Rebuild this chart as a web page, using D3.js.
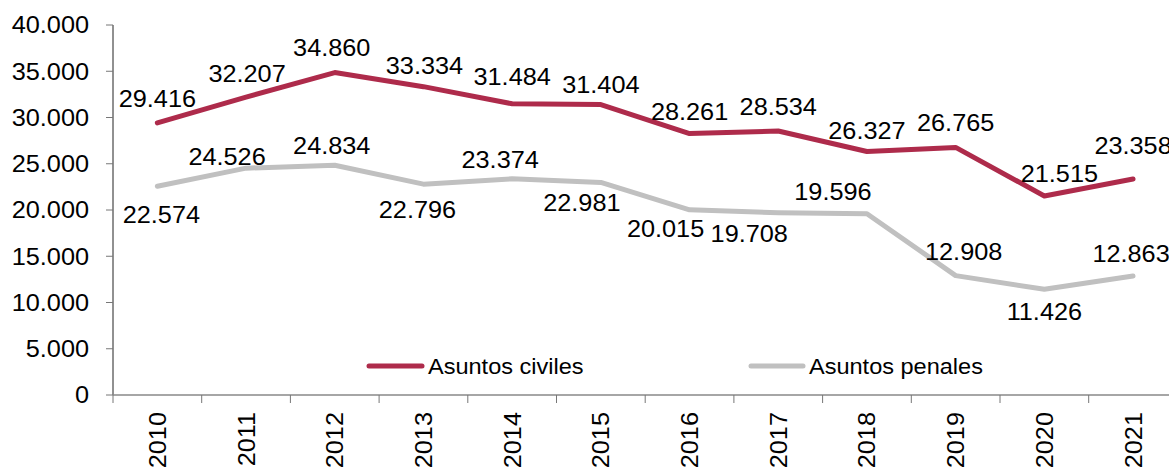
<!DOCTYPE html>
<html>
<head>
<meta charset="utf-8">
<script src="https://cdn.jsdelivr.net/npm/d3@7"></script>
<style>
  body { margin: 0; background: #fff; overflow: hidden; }
  text { font-family: "Liberation Sans", Arial, sans-serif; fill: #000; }
</style>
</head>
<body>
<script>
// data
const years = ["2010", "2011", "2012", "2013", "2014", "2015", "2016", "2017", "2018", "2019", "2020", "2021"]
const civiles = [29416, 32207, 34860, 33334, 31484, 31404, 28261, 28534, 26327, 26765, 21515, 23358]
const penales = [22574, 24526, 24834, 22796, 23374, 22981, 20015, 19708, 19596, 12908, 11426, 12863]
const yTicks = [0, 5000, 10000, 15000, 20000, 25000, 30000, 35000, 40000]
const seriesNames = ["Asuntos civiles", "Asuntos penales"]

// label nudges (layout only) [dx, dy] from the point
const civNudge = [[0,-16],[1,-15],[-3,-17],[1,-13],[0,-19],[0,-12],[0,-14],[0,-16],[0,-12],[0,-16],[15,-14],[0,-25]]
const penNudge = [[4,37],[-19,-3],[-3,-11],[-6,34],[-12,-11],[-19,29],[-24,27],[-29,29],[-34,-14],[8,-16],[0,31],[-2,-14]]

const w = 1169
const h = 468
const colCiv = "#ae2b4b"
const colPen = "#c0c0c0"
const sx = 1.1   // text looks a bit wide in the picture

const svg = d3.select("body").append("svg")
  .attr("width", w)
  .attr("height", h)

const x = d3.scaleBand().domain(years).range([113, 113 + 88.7 * 12])
const y = d3.scaleLinear().domain([0, 40000]).range([395, 25])

const fmt = d3.formatLocale({decimal: ",", thousands: ".", grouping: [3], currency: ["", ""]}).format(",")

// y axis
svg.append("line")
  .attr("x1", 113).attr("x2", 113)
  .attr("y1", y(40000)).attr("y2", y(0))
  .attr("stroke", "#222").attr("stroke-width", 1)

svg.selectAll(".ytick").data(yTicks).enter().append("line")
  .attr("x1", 106).attr("x2", 113)
  .attr("y1", d => y(d)).attr("y2", d => y(d))
  .attr("stroke", "#777")

svg.selectAll(".ylab").data(yTicks).enter().append("text")
  .attr("transform", d => `translate(89,${y(d) + 8.3}) scale(${sx},1)`)
  .attr("text-anchor", "end")
  .attr("font-size", 23)
  .text(d => fmt(d))

// x axis
svg.append("line")
  .attr("x1", 113).attr("x2", w)
  .attr("y1", y(0)).attr("y2", y(0))
  .attr("stroke", "#888").attr("stroke-width", 1.3)

svg.selectAll(".xtick").data(years).enter().append("line")
  .attr("x1", d => x(d)).attr("x2", d => x(d))
  .attr("y1", y(0)).attr("y2", y(0) + 8)
  .attr("stroke", "#777")

svg.selectAll(".xlab").data(years).enter().append("text")
  .attr("transform", d => `translate(${x(d) + x.bandwidth() / 2 + 8.5},412) rotate(-90) scale(${sx},1)`)
  .attr("text-anchor", "end")
  .attr("font-size", 23)
  .text(d => d)

// lines
const line = d3.line()
  .x((d, i) => x(years[i]) + x.bandwidth() / 2)
  .y(d => y(d))

const series = [
  {vals: penales, color: colPen, nudge: penNudge},
  {vals: civiles, color: colCiv, nudge: civNudge}
]

series.forEach(s => {
  svg.append("path")
    .attr("d", line(s.vals))
    .attr("fill", "none")
    .attr("stroke", s.color)
    .attr("stroke-width", 5)
    .attr("stroke-linejoin", "round")
    .attr("stroke-linecap", "round")
})

series.forEach(s => {
  svg.selectAll(null).data(s.vals).enter().append("text")
    .attr("transform", (d, i) => {
      const px = x(years[i]) + x.bandwidth() / 2 + s.nudge[i][0]
      const py = y(d) + s.nudge[i][1]
      return `translate(${px},${py}) scale(${sx},1)`
    })
    .attr("text-anchor", "middle")
    .attr("font-size", 23)
    .text(d => fmt(d))
})

// legend
const legend = [
  {name: seriesNames[0], color: colCiv, x0: 369, x1: 422, tx: 428},
  {name: seriesNames[1], color: colPen, x0: 751, x1: 803, tx: 809}
]
legend.forEach(l => {
  svg.append("line")
    .attr("x1", l.x0).attr("x2", l.x1)
    .attr("y1", 366).attr("y2", 366)
    .attr("stroke", l.color).attr("stroke-width", 5)
    .attr("stroke-linecap", "round")
  svg.append("text")
    .attr("transform", `translate(${l.tx},373.5) scale(1.07,1)`)
    .attr("font-size", 22)
    .text(l.name)
})
</script>
</body>
</html>
